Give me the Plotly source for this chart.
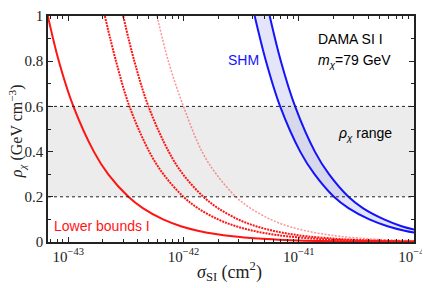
import plotly.graph_objects as go

# ---- data ----
rho = [1.0, 0.8, 0.6, 0.4, 0.3, 0.2, 0.15, 0.1, 0.07, 0.05, 0.035, 0.025,
       0.015, 0.01, 0.006, 0.004, 0.0025, 0.0015, 0.001]

sigma_lb1 = [6.66e-44, 8.3e-44, 1.11e-43, 1.67e-43, 2.22e-43, 3.33e-43, 4.44e-43,
             6.66e-43, 9.5e-43, 1.33e-42, 1.9e-42, 2.66e-42, 4.44e-42, 6.66e-42,
             1.11e-41, 1.67e-41, 2.66e-41, 4.44e-41, 6.66e-41]
sigma_lb2 = [2.08e-43, 2.6e-43, 3.4e-43, 5.05e-43, 6.7e-43, 1.0e-42, 1.33e-42,
             2.0e-42, 2.85e-42, 4.0e-42, 5.7e-42, 8.0e-42, 1.33e-41, 2.0e-41,
             3.3e-41, 5.0e-41, 8.0e-41, 1.33e-40, 2.0e-40]
sigma_lb3 = [3.0e-43, 3.75e-43, 4.97e-43, 7.45e-43, 9.9e-43, 1.49e-42, 1.99e-42,
             2.98e-42, 4.25e-42, 5.96e-42, 8.5e-42, 1.19e-41, 1.99e-41, 2.98e-41,
             4.97e-41, 7.45e-41, 1.19e-40, 1.99e-40, 2.98e-40]
sigma_lb4 = [5.9e-43, 7.4e-43, 1.0e-42, 1.45e-42, 1.93e-42, 2.85e-42, 3.8e-42,
             5.7e-42, 8.1e-42, 1.14e-41, 1.63e-41, 2.28e-41, 3.8e-41, 5.7e-41,
             9.5e-41, 1.43e-40, 2.28e-40, 3.8e-40, 5.7e-40]

rho_shm = [1.0, 0.8, 0.6, 0.4, 0.3, 0.2, 0.15, 0.1, 0.07, 0.05, 0.035]
sigma_shm_low = [4.15e-42, 5.2e-42, 6.9e-42, 1.03e-41, 1.37e-41, 2.02e-41, 2.7e-41,
                 4.1e-41, 5.9e-41, 8.3e-41, 1.18e-40]
sigma_shm_high = [5.6e-42, 7.0e-42, 9.3e-42, 1.38e-41, 1.83e-41, 2.7e-41, 3.6e-41,
                  5.5e-41, 7.8e-41, 1.1e-40, 1.57e-40]

rho_range = [0.2, 0.6]

x_tickvals = [1e-43, 1e-42, 1e-41, 1e-40]
x_ticktext = ["10<sup>\u221243</sup>", "10<sup>\u221242</sup>",
              "10<sup>\u221241</sup>", "10<sup>\u221240</sup>"]
x_minor = [7e-44, 8e-44, 9e-44] + [m * 10.0 ** e for e in (-43, -42, -41) for m in range(2, 10)]
y_tickvals = [0, 0.2, 0.4, 0.6, 0.8, 1.0]
y_ticktext = ["0", "0.2", "0.4", "0.6", "0.8", "1"]

x_title = "<i>\u03c3</i><sub>SI</sub> (cm<sup>2</sup>)"
y_title = "<i>\u03c1</i><sub><i>\u03c7</i></sub> (GeV cm<sup>\u22123</sup>)"

RED = "rgb(255,20,20)"
BLUE = "rgb(20,20,250)"
SERIF = "Liberation Serif, Times New Roman, serif"
SANS = "Liberation Sans, Arial, sans-serif"

fig = go.Figure()

# SHM band fill
fig.add_trace(go.Scatter(
    x=sigma_shm_high + sigma_shm_low[::-1],
    y=rho_shm + rho_shm[::-1],
    mode="lines", fill="toself", fillcolor="rgba(170,170,240,0.3)",
    line=dict(width=0, shape="spline"), hoverinfo="skip", showlegend=False))

for sx in (sigma_shm_low, sigma_shm_high):
    fig.add_trace(go.Scatter(x=sx, y=rho_shm, mode="lines",
                             line=dict(color=BLUE, width=2, shape="spline"),
                             showlegend=False))

fig.add_trace(go.Scatter(x=sigma_lb4, y=rho, mode="lines",
                         line=dict(color="rgba(255,60,60,0.55)", width=1.5, dash="2px,1.5px", shape="spline"),
                         showlegend=False))
fig.add_trace(go.Scatter(x=sigma_lb3, y=rho, mode="lines",
                         line=dict(color=RED, width=2, dash="2px,1px", shape="spline"),
                         showlegend=False))
fig.add_trace(go.Scatter(x=sigma_lb2, y=rho, mode="lines",
                         line=dict(color=RED, width=2, dash="2px,1px", shape="spline"),
                         showlegend=False))
fig.add_trace(go.Scatter(x=sigma_lb1, y=rho, mode="lines",
                         line=dict(color=RED, width=2, shape="spline"),
                         showlegend=False))

# rho range band
fig.add_shape(type="rect", xref="paper", yref="y", x0=0, x1=1,
              y0=rho_range[0], y1=rho_range[1],
              fillcolor="#ececec", line=dict(width=0), layer="below")
for yv in rho_range:
    fig.add_shape(type="line", xref="paper", yref="y", x0=0, x1=1, y0=yv, y1=yv,
                  line=dict(color="#222", width=1, dash="dot"), layer="above")

ann_font = dict(family=SANS, size=14, color="black")
fig.add_annotation(xref="paper", yref="paper", x=0.732, y=0.90, xanchor="left", yanchor="middle",
                   text="DAMA SI I", showarrow=False, font=ann_font)
fig.add_annotation(xref="paper", yref="paper", x=0.732, y=0.80, xanchor="left", yanchor="middle",
                   text="<i>m</i><sub><i>\u03c7</i></sub>=79 GeV", showarrow=False, font=ann_font)
fig.add_annotation(xref="paper", yref="paper", x=0.487, y=0.805, xanchor="left", yanchor="middle",
                   text="SHM", showarrow=False, font=dict(family=SANS, size=14, color=BLUE))
fig.add_annotation(xref="paper", yref="paper", x=0.787, y=0.48, xanchor="left", yanchor="middle",
                   text="<i>\u03c1</i><sub><i>\u03c7</i></sub> range", showarrow=False, font=ann_font)
fig.add_annotation(xref="paper", yref="paper", x=0.012, y=0.072, xanchor="left", yanchor="middle",
                   text="Lower bounds I", showarrow=False, font=dict(family=SANS, size=14, color=RED))

# axis titles as annotations for exact placement
fig.add_annotation(xref="paper", yref="paper", x=0.497, y=-0.13, xanchor="center", yanchor="middle",
                   text=x_title, showarrow=False, font=dict(family=SERIF, size=18, color="#222"))
fig.add_annotation(xref="paper", yref="paper", x=-0.085, y=0.49, xanchor="center", yanchor="middle",
                   textangle=-90, text=y_title, showarrow=False,
                   font=dict(family=SERIF, size=16, color="#222"))

fig.update_xaxes(type="log", range=[-43.175, -40.0], automargin=False,
                 tickvals=x_tickvals, ticktext=x_ticktext,
                 ticks="inside", ticklen=5, tickcolor="#222",
                 minor=dict(tickvals=x_minor, ticks="inside", ticklen=3, tickcolor="#222"),
                 showline=True, linecolor="#222", linewidth=1.5, mirror="ticks",
                 showgrid=False, zeroline=False,
                 tickfont=dict(family=SERIF, size=15, color="#222"))
fig.update_yaxes(range=[0, 1], tickvals=y_tickvals, ticktext=y_ticktext, automargin=False,
                 ticks="inside", ticklen=5, tickcolor="#222",
                 minor=dict(dtick=0.1, ticks="inside", ticklen=3, tickcolor="#222"),
                 showline=True, linecolor="#222", linewidth=1.5, mirror="ticks",
                 showgrid=False, zeroline=False,
                 tickfont=dict(family=SERIF, size=15, color="#222"))

# page body has an 8px default margin, so the figure is sized to fill the rest
fig.update_layout(width=422, height=280, margin=dict(l=40, r=16, t=8, b=46),
                  plot_bgcolor="white", paper_bgcolor="white", showlegend=False)

fig.write_html("out.html")
